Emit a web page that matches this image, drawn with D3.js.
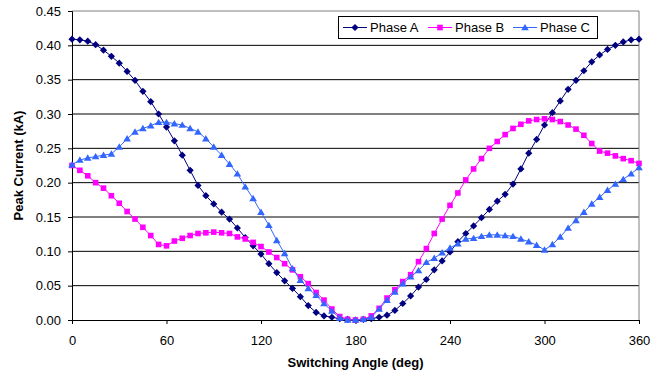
<!DOCTYPE html>
<html>
<head>
<meta charset="utf-8">
<script src="https://cdn.jsdelivr.net/npm/d3@7"></script>
<style>
  body { margin: 0; background: #fff; }
  svg { font-family: 'Liberation Sans', Arial, sans-serif; }
</style>
</head>
<body>
<svg id="chart"></svg>
<script>
// switching angle (deg), every 5 degrees
const angles = [0, 5, 10, 15, 20, 25, 30, 35, 40, 45, 50, 55, 60, 65, 70, 75, 80, 85, 90, 95,
  100, 105, 110, 115, 120, 125, 130, 135, 140, 145, 150, 155, 160, 165, 170, 175, 180, 185, 190, 195,
  200, 205, 210, 215, 220, 225, 230, 235, 240, 245, 250, 255, 260, 265, 270, 275, 280, 285, 290, 295,
  300, 305, 310, 315, 320, 325, 330, 335, 340, 345, 350, 355, 360];

const phaseA = [0.409, 0.408, 0.406, 0.401, 0.393, 0.384, 0.374, 0.362, 0.349, 0.333, 0.318, 0.300, 0.281, 0.261, 0.240, 0.218, 0.196, 0.181, 0.169, 0.157,
  0.147, 0.134, 0.120, 0.108, 0.096, 0.082, 0.069, 0.057, 0.046, 0.034, 0.021, 0.011, 0.006, 0.004, 0.002, 0.001, 0.000, 0.001, 0.002, 0.004,
  0.007, 0.014, 0.024, 0.035, 0.048, 0.059, 0.073, 0.086, 0.099, 0.114, 0.126, 0.137, 0.149, 0.161, 0.173, 0.183, 0.198, 0.220, 0.243, 0.263,
  0.284, 0.302, 0.319, 0.336, 0.349, 0.363, 0.376, 0.386, 0.394, 0.400, 0.405, 0.408, 0.409];

const phaseB = [0.225, 0.218, 0.210, 0.200, 0.192, 0.181, 0.170, 0.158, 0.147, 0.135, 0.123, 0.110, 0.108, 0.115, 0.119, 0.123, 0.126, 0.127, 0.128, 0.127,
  0.126, 0.121, 0.118, 0.113, 0.107, 0.099, 0.091, 0.082, 0.073, 0.063, 0.053, 0.040, 0.029, 0.016, 0.005, 0.001, 0.000, 0.001, 0.006, 0.017,
  0.032, 0.044, 0.056, 0.066, 0.085, 0.104, 0.126, 0.147, 0.167, 0.185, 0.204, 0.220, 0.235, 0.250, 0.260, 0.270, 0.279, 0.285, 0.290, 0.292,
  0.293, 0.292, 0.289, 0.284, 0.278, 0.269, 0.257, 0.246, 0.243, 0.239, 0.235, 0.232, 0.228];

const phaseC = [0.226, 0.233, 0.236, 0.238, 0.240, 0.242, 0.252, 0.264, 0.274, 0.279, 0.283, 0.288, 0.288, 0.286, 0.284, 0.279, 0.274, 0.264, 0.252, 0.240,
  0.227, 0.213, 0.194, 0.177, 0.157, 0.138, 0.116, 0.097, 0.075, 0.058, 0.046, 0.036, 0.024, 0.013, 0.003, 0.000, 0.000, 0.001, 0.004, 0.016,
  0.029, 0.041, 0.053, 0.063, 0.072, 0.084, 0.090, 0.098, 0.105, 0.111, 0.118, 0.119, 0.122, 0.124, 0.124, 0.123, 0.122, 0.118, 0.114, 0.109,
  0.102, 0.110, 0.121, 0.134, 0.145, 0.157, 0.169, 0.179, 0.189, 0.198, 0.205, 0.213, 0.222];

const xTicks = [0, 60, 120, 180, 240, 300, 360];
const yTicks = [0, 0.05, 0.10, 0.15, 0.20, 0.25, 0.30, 0.35, 0.40, 0.45];

const seriesNames = ['Phase A', 'Phase B', 'Phase C'];

const width = 664, height = 375;
const margin = { top: 11, right: 25, bottom: 55, left: 72 };

const series = [
  { name: seriesNames[0], values: phaseA, color: '#000080', symbol: 'diamond' },
  { name: seriesNames[1], values: phaseB, color: '#FF00FF', symbol: 'square' },
  { name: seriesNames[2], values: phaseC, color: '#3366FF', symbol: 'triangle' }
];

const svg = d3.select('#chart').attr('width', width).attr('height', height);
svg.append('rect').attr('width', width).attr('height', height).attr('fill', '#fff');

const x = d3.scaleLinear().domain([0, 360]).range([margin.left, width - margin.right]);
const y = d3.scaleLinear().domain([0, 0.45]).range([height - margin.bottom, margin.top]);

// gridlines
svg.append('g')
  .selectAll('line')
  .data(yTicks.slice(1, -1))
  .join('line')
  .attr('x1', x(0)).attr('x2', x(360))
  .attr('y1', d => y(d)).attr('y2', d => y(d))
  .attr('stroke', '#000').attr('stroke-width', 1);

// plot border (top and right in grey)
svg.append('path')
  .attr('d', `M${x(0)},${y(0.45)}H${x(360)}V${y(0)}`)
  .attr('fill', 'none').attr('stroke', '#808080');

const yAxis = svg.append('g')
  .attr('transform', `translate(${x(0)},0)`)
  .call(d3.axisLeft(y).tickValues(yTicks).tickFormat(d3.format('.2f')).tickSize(4).tickPadding(7));

const xAxis = svg.append('g')
  .attr('transform', `translate(0,${y(0)})`)
  .call(d3.axisBottom(x).tickValues(xTicks).tickSize(4).tickPadding(12));

[xAxis, yAxis].forEach(g => {
  g.select('.domain').attr('stroke', '#000');
  g.selectAll('.tick line').attr('stroke', '#000');
  g.selectAll('text').attr('font-size', 13).attr('fill', '#000')
    .attr('font-family', "'Liberation Sans', Arial, sans-serif");
});

// axis titles
svg.append('text')
  .attr('x', (x(0) + x(360)) / 2).attr('y', 367)
  .attr('text-anchor', 'middle')
  .attr('font-size', 13).attr('font-weight', 'bold')
  .text('Switching Angle (deg)');

svg.append('text')
  .attr('transform', `translate(23,${(y(0) + y(0.45)) / 2}) rotate(-90)`)
  .attr('text-anchor', 'middle')
  .attr('font-size', 13).attr('font-weight', 'bold')
  .text('Peak Current (kA)');

function markerPath(kind) {
  if (kind === 'diamond') return 'M0,-3.6L3.6,0L0,3.6L-3.6,0Z';
  if (kind === 'square') return 'M-2.8,-2.8H2.8V2.8H-2.8Z';
  return 'M0,-3.6L3.8,2.8H-3.8Z';
}

const line = d3.line()
  .x((d, i) => x(angles[i]))
  .y(d => y(d));

series.forEach(s => {
  svg.append('path')
    .attr('d', line(s.values))
    .attr('fill', 'none')
    .attr('stroke', s.color)
    .attr('stroke-width', 1);

  svg.append('g')
    .selectAll('path')
    .data(s.values)
    .join('path')
    .attr('transform', (d, i) => `translate(${x(angles[i])},${y(d)})`)
    .attr('d', markerPath(s.symbol))
    .attr('fill', s.color);
});

// legend
const legend = svg.append('g');
legend.append('rect')
  .attr('x', 338.5).attr('y', 16.5)
  .attr('width', 259).attr('height', 22)
  .attr('fill', '#fff').attr('stroke', '#000');

series.forEach((s, i) => {
  const lx = 343 + i * 85, ly = 27.5;
  legend.append('line')
    .attr('x1', lx).attr('x2', lx + 24)
    .attr('y1', ly).attr('y2', ly)
    .attr('stroke', s.color);
  legend.append('path')
    .attr('transform', `translate(${lx + 12},${ly})`)
    .attr('d', markerPath(s.symbol))
    .attr('fill', s.color);
  legend.append('text')
    .attr('x', lx + 27).attr('y', 32)
    .attr('font-size', 13)
    .text(s.name);
});
</script>
</body>
</html>
